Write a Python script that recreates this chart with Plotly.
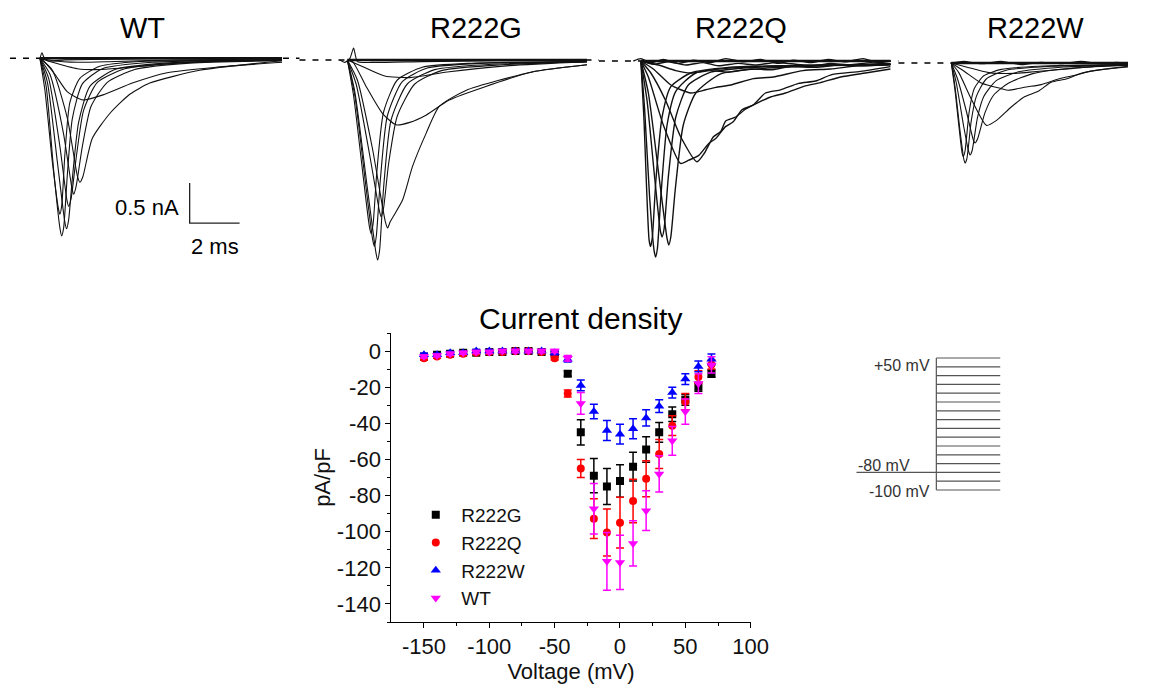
import plotly.graph_objects as go

W, H = 1150, 684
# the page is laid out ~16px narrower than the window, so positions are mapped on this width
RENDER_W = 1134
font_family = "Liberation Sans, Arial, sans-serif"

# ---- current density (pA/pF) vs step voltage ----
voltage = [-150, -140, -130, -120, -110, -100, -90, -80, -70, -60, -50, -40,
           -30, -20, -10, 0, 10, 20, 30, 40, 50, 60, 70]

r222g = [-3, -2, -1.5, -1, -1, -0.5, -0.5, 0, 0, -0.5, -1.5, -12.5,
         -45, -69, -75, -72, -64, -54.5, -45, -35, -27, -19.7, -12.5]
r222g_err = [1, 1, 1, 1, 0.8, 0.8, 0.8, 0.8, 0.8, 0.8, 1, 1.5,
             7, 9.5, 10, 9, 8, 7, 5.5, 4, 3, 2.5, 2]

r222q = [-4, -3, -2, -1.5, -1, -0.5, -0.5, 0, 0, -0.5, -4, -23.5,
         -65, -92.8, -100.5, -95, -83, -70.7, -57, -41.3, -28, -14.4, -7.4]
r222q_err = [1, 1, 1, 0.8, 0.8, 0.8, 0.8, 0.8, 0.8, 0.8, 1, 2,
             5, 11, 13, 14, 12, 10, 8, 5.5, 4.5, 3.5, 2.5]

r222w = [-2, -2, -1, -1, 0, 0, 0, 0, 0, 0, -1, -4.5,
         -19, -33.5, -44, -46, -43, -37, -30.5, -23, -15.5, -8.5, -4.6]
r222w_err = [0.8, 0.8, 0.8, 0.8, 0.8, 0.8, 0.8, 0.8, 0.8, 0.8, 1, 1.5,
             3, 4, 5.5, 5.5, 5.5, 4.5, 3.5, 3, 3, 3, 3]

wt = [-3, -2.5, -1.5, -1, -0.5, -0.5, 0, 0, 0, 0, 0, -4,
      -29, -87.3, -116.4, -117, -106.5, -88.4, -68, -49.7, -33.5, -18, -7.7]
wt_err = [0.8, 0.8, 0.8, 0.8, 0.8, 0.8, 0.8, 0.8, 0.8, 0.8, 0.8, 1.5,
          6, 14, 16, 15, 12.5, 11, 10, 8, 7, 5.5, 4.5]

# ---- example current traces (time in ms, current in nA) ----
WT_T = [
    [0, 0.25, 0.55, 0.8, 0.87, 0.95, 1.1, 1.3, 1.7, 2.5, 4.5, 9.7],
    [0, 0.3, 0.7, 1.0, 1.07, 1.15, 1.3, 1.55, 2.0, 3.0, 5.0, 9.7],
    [0, 0.2, 0.5, 0.74, 0.8, 0.88, 1.0, 1.2, 1.6, 2.4, 4.0, 9.7],
    [0, 0.35, 0.8, 1.08, 1.15, 1.25, 1.45, 1.75, 2.3, 3.4, 5.5, 9.7],
    [0, 0.4, 0.95, 1.28, 1.35, 1.45, 1.7, 2.05, 2.7, 3.8, 6.0, 9.7],
    [0, 0.5, 1.1, 1.5, 1.6, 1.72, 2.1, 2.8, 3.6, 4.4, 6.4, 9.7],
    [0, 0.1, 0.6, 1.1, 1.73, 2.6, 3.7, 5.1, 7.1, 9.7],
    [0, 0.5, 1.5, 2.5, 4.0, 6.0, 9.7],
    [0, 0.08, 0.15, 0.3, 1.0, 3.0, 6.0, 9.7],
    [0, 0.5, 1.5, 3.0, 5.5, 9.7],
]
WT_I = [
    [0, -0.35, -1.4, -2.12, -2.22, -2.12, -1.45, -0.75, -0.32, -0.13, -0.05, -0.02],
    [0, -0.3, -1.3, -2.05, -2.13, -2.02, -1.5, -0.8, -0.35, -0.14, -0.06, -0.02],
    [0, -0.4, -1.3, -1.88, -1.95, -1.82, -1.2, -0.55, -0.25, -0.1, -0.04, -0.02],
    [0, -0.25, -1.1, -1.77, -1.85, -1.75, -1.25, -0.65, -0.3, -0.13, -0.06, -0.02],
    [0, -0.2, -0.95, -1.62, -1.7, -1.6, -1.1, -0.6, -0.3, -0.14, -0.06, -0.03],
    [0, -0.15, -0.75, -1.47, -1.55, -1.48, -1.0, -0.69, -0.45, -0.31, -0.15, -0.03],
    [0, -0.02, -0.2, -0.42, -0.52, -0.45, -0.31, -0.18, -0.11, -0.05],
    [0, -0.05, -0.13, -0.14, -0.1, -0.05, -0.02],
    [0, 0.07, 0.02, -0.03, -0.02, -0.01, 0, 0],
    [0, -0.03, -0.05, -0.04, -0.02, -0.01],
]

G_T = [
    [0, 0.3, 0.8, 1.14, 1.21, 1.29, 1.45, 1.75, 2.4, 3.5, 6.0, 9.6],
    [0, 0.3, 0.75, 1.01, 1.08, 1.16, 1.32, 1.6, 2.2, 3.2, 5.5, 9.6],
    [0, 0.25, 0.65, 0.88, 0.95, 1.03, 1.18, 1.45, 2.0, 3.0, 5.0, 9.6],
    [0, 0.35, 0.9, 1.28, 1.35, 1.45, 1.65, 2.0, 2.7, 3.8, 6.2, 9.6],
    [0, 0.4, 1.0, 1.52, 1.61, 1.72, 2.21, 2.61, 3.15, 3.68, 4.75, 7.4, 9.6],
    [0, 0.21, 0.75, 1.41, 1.95, 2.5, 3.15, 4.08, 5.55, 7.4, 9.6],
    [0, 0.6, 1.5, 2.5, 4.0, 6.5, 9.6],
    [-0.3, -0.1, 0.1, 0.25, 0.4, 1.0, 3.0, 6.0, 9.6],
]
G_I = [
    [0, -0.4, -1.6, -2.4, -2.5, -2.38, -1.6, -0.75, -0.3, -0.12, -0.05, -0.02],
    [0, -0.45, -1.6, -2.24, -2.33, -2.2, -1.5, -0.7, -0.27, -0.1, -0.04, -0.02],
    [0, -0.45, -1.5, -2.08, -2.17, -2.05, -1.4, -0.65, -0.25, -0.09, -0.04, -0.02],
    [0, -0.3, -1.2, -1.88, -1.96, -1.85, -1.3, -0.7, -0.3, -0.13, -0.06, -0.02],
    [0, -0.25, -1.1, -2.02, -2.1, -2.02, -1.75, -1.33, -0.92, -0.58, -0.38, -0.15, -0.06],
    [0, -0.02, -0.33, -0.67, -0.81, -0.78, -0.69, -0.5, -0.33, -0.15, -0.06],
    [0, -0.08, -0.2, -0.22, -0.15, -0.07, -0.02],
    [0, -0.03, 0.02, 0.15, -0.02, -0.03, -0.02, -0.01, 0],
]

Q_T = [
    [0, 0.15, 0.35, 0.53, 0.59, 0.66, 0.8, 1.05, 1.4, 2.2, 4.0, 10.0],
    [0, 0.12, 0.33, 0.39, 0.46, 0.6, 0.85, 1.2, 2.0, 3.5, 10.0],
    [0, 0.3, 0.75, 1.05, 1.12, 1.2, 1.38, 1.7, 2.2, 3.2, 5.5, 10.0],
    [0, 0.25, 0.55, 0.78, 0.85, 0.93, 1.1, 1.4, 1.9, 2.8, 5.0, 10.0],
    [0, 0.3, 0.9, 1.59, 1.92, 2.32, 2.72, 3.0, 3.39, 3.7, 4.05, 4.5, 4.99, 5.6, 6.32, 7.0, 7.65, 8.8, 10.0],
    [0, 0.4, 1.0, 1.6, 2.25, 2.55, 2.9, 3.2, 3.4, 3.8, 4.2, 4.7, 5.2, 5.8, 6.5, 7.2, 8.0, 9.0, 10.0],
    [0, 0.5, 1.2, 2.0, 2.6, 3.0, 3.6, 4.5, 5.3, 6.5, 7.6, 8.7, 10.0],
    [0, 0.7, 1.4, 2.0, 2.8, 3.5, 4.4, 5.2, 6.0, 7.0, 7.9, 8.8, 10.0],
    [-0.3, 0, 0.4, 0.9, 1.5, 2.1, 2.8, 3.4, 4.1, 4.8, 5.5, 6.1, 6.8, 7.5, 8.2, 8.9, 9.5, 10.0],
    [0, 0.5, 1.1, 1.8, 2.5, 3.1, 3.9, 4.6, 5.4, 6.2, 6.9, 7.6, 8.4, 9.2, 10.0],
]
Q_I = [
    [0, -0.6, -1.7, -2.37, -2.45, -2.35, -1.7, -0.8, -0.38, -0.15, -0.08, -0.04],
    [0, -0.7, -2.24, -2.32, -2.2, -1.5, -0.7, -0.32, -0.15, -0.08, -0.04],
    [0, -0.4, -1.5, -2.22, -2.3, -2.2, -1.6, -0.8, -0.4, -0.16, -0.08, -0.04],
    [0, -0.5, -1.45, -2.12, -2.2, -2.1, -1.45, -0.7, -0.3, -0.14, -0.07, -0.04],
    [0, -0.2, -0.8, -1.28, -1.24, -1.18, -1.03, -0.97, -0.82, -0.76, -0.61, -0.55, -0.4, -0.36, -0.28, -0.25, -0.17, -0.13, -0.07],
    [0, -0.15, -0.5, -0.95, -1.26, -1.15, -0.95, -0.88, -0.75, -0.7, -0.6, -0.52, -0.45, -0.4, -0.32, -0.27, -0.2, -0.15, -0.1],
    [0, -0.1, -0.3, -0.4, -0.36, -0.33, -0.3, -0.22, -0.2, -0.12, -0.1, -0.06, -0.05],
    [0, -0.05, -0.12, -0.15, -0.12, -0.14, -0.1, -0.11, -0.07, -0.08, -0.05, -0.06, -0.04],
    [0, 0.03, -0.02, 0.02, -0.03, 0.01, -0.02, 0.03, -0.01, 0.02, -0.03, 0.01, -0.02, 0.02, -0.01, 0.03, -0.02, 0],
    [0, -0.04, -0.01, -0.05, -0.02, -0.06, -0.03, -0.05, -0.02, -0.04, -0.06, -0.03, -0.05, -0.02, -0.04],
]

W_T = [
    [0, 0.15, 0.35, 0.5, 0.55, 0.62, 0.8, 1.0, 1.4, 2.2, 4.0, 7.08],
    [0, 0.15, 0.43, 0.48, 0.55, 0.72, 0.92, 1.3, 2.0, 3.5, 7.08],
    [0, 0.2, 0.5, 0.69, 0.75, 0.83, 1.05, 1.3, 1.8, 2.7, 4.5, 7.08],
    [0, 0.25, 0.6, 0.88, 0.95, 1.05, 1.35, 1.7, 2.3, 3.3, 5.0, 7.08],
    [0, 0.3, 0.8, 1.41, 1.8, 2.4, 2.95, 3.5, 4.0, 4.6, 5.2, 6.1, 7.08],
    [0, 0.5, 1.2, 2.0, 2.28, 3.0, 3.6, 4.3, 5.0, 5.6, 6.3, 7.08],
    [0, 0.6, 1.5, 2.5, 3.3, 4.0, 4.8, 5.5, 6.2, 7.08],
    [0, 0.5, 1.2, 2.0, 2.8, 3.6, 4.4, 5.2, 6.0, 6.6, 7.08],
]
W_I = [
    [0, -0.3, -0.85, -1.2, -1.25, -1.2, -0.72, -0.42, -0.2, -0.09, -0.04, -0.02],
    [0, -0.35, -1.12, -1.17, -1.1, -0.6, -0.32, -0.16, -0.08, -0.04, -0.02],
    [0, -0.25, -0.8, -1.1, -1.15, -1.1, -0.68, -0.42, -0.22, -0.11, -0.05, -0.02],
    [0, -0.2, -0.6, -0.96, -1.0, -0.95, -0.62, -0.4, -0.25, -0.13, -0.06, -0.03],
    [0, -0.12, -0.45, -0.78, -0.72, -0.55, -0.42, -0.35, -0.24, -0.2, -0.13, -0.08, -0.05],
    [0, -0.1, -0.25, -0.32, -0.34, -0.3, -0.27, -0.2, -0.15, -0.1, -0.07, -0.04],
    [0, -0.05, -0.12, -0.13, -0.11, -0.09, -0.07, -0.05, -0.03, -0.02],
    [0, 0.02, -0.01, 0.02, -0.02, 0.01, -0.01, 0.02, -0.01, 0.01, 0],
]

# ---- voltage protocol ----
step_levels = [-100, -90, -80, -70, -60, -50, -40, -30, -20, -10, 0, 10, 20, 30, 40, 50]
holding_mv = -80
hold_ms = 50
step_ms = 40

# scale bar
bar_na = 0.5
bar_ms = 2


def px_x(p):
    return min(p / RENDER_W, 1.0)


def px_y(p):
    return 1 - p / H


fig = go.Figure()

# IV curves
series = [
    ("R222G", r222g, r222g_err, "#000000", "square", 8),
    ("R222Q", r222q, r222q_err, "#ff0000", "circle", 8),
    ("R222W", r222w, r222w_err, "#0000ff", "triangle-up", 9),
    ("WT", wt, wt_err, "#ff00ff", "triangle-down", 9),
]
for name, vals, errs, col, sym, sz in series:
    fig.add_trace(go.Scatter(
        x=voltage, y=vals, name=name, mode="markers",
        marker=dict(color=col, symbol=sym, size=sz, line=dict(width=0)),
        error_y=dict(type="data", array=errs, color=col, thickness=1.5, width=4),
        xaxis="x", yaxis="y",
    ))

# trace panels: (title, axis id, x px span, onset px, baseline px, times, currents, dash start, title x)
px_per_ms = 25
px_per_na = 80
panels = [
    ("WT", 2, (0, 300), 40, 58.3, WT_T, WT_I, 10, 143),
    ("R222G", 3, (300, 600), 348, 60, G_T, G_I, 300, 477),
    ("R222Q", 4, (600, 900), 642, 61, Q_T, Q_I, 600, 742),
    ("R222W", 5, (900, RENDER_W), 953, 63, W_T, W_I, 900, 1037),
]
top_px, bot_px = 30, 280

layout_axes = {}
shapes = []
annotations = []
for title, n, (x0, x1), onset, base, tt, ii, dash0, tx in panels:
    for t, i in zip(tt, ii):
        fig.add_trace(go.Scatter(
            x=t, y=i, mode="lines", showlegend=False, hoverinfo="skip",
            line=dict(color="#111111", width=1.4 if n == 4 else 1.1, shape="spline", smoothing=0.6),
            xaxis=f"x{n}", yaxis=f"y{n}",
        ))
    # thick baseline band of the many small traces
    fig.add_trace(go.Scatter(
        x=[0, tt[0][-1]], y=[0, 0], mode="lines", showlegend=False, hoverinfo="skip",
        line=dict(color="#111111", width=2.5), xaxis=f"x{n}", yaxis=f"y{n}",
    ))
    layout_axes[f"xaxis{n}"] = dict(
        domain=[px_x(x0), px_x(x1)], anchor=f"y{n}", visible=False,
        range=[(x0 - onset) / px_per_ms, (x1 - onset) / px_per_ms], fixedrange=True,
    )
    layout_axes[f"yaxis{n}"] = dict(
        domain=[px_y(bot_px), px_y(top_px)], anchor=f"x{n}", visible=False,
        range=[-(bot_px - base) / px_per_na, -(top_px - base) / px_per_na], fixedrange=True,
    )
    shapes.append(dict(
        type="line", xref=f"x{n} domain", yref=f"y{n}",
        x0=(dash0 - x0) / (x1 - x0), x1=1, y0=0, y1=0,
        line=dict(color="black", width=1.6, dash="6px,7px"), layer="below",
    ))
    annotations.append(dict(
        x=px_x(tx), y=px_y(28), xref="paper", yref="paper", text=title,
        xanchor="center", yanchor="middle",
        showarrow=False, font=dict(size=29, color="black", family=font_family),
    ))

# scale bar in the WT panel
bar_t0, bar_i0 = 6.0, -2.06
fig.add_trace(go.Scatter(
    x=[bar_t0, bar_t0, bar_t0 + bar_ms], y=[bar_i0 + bar_na, bar_i0, bar_i0],
    mode="lines", showlegend=False, hoverinfo="skip",
    line=dict(color="#222222", width=1.3), xaxis="x2", yaxis="y2",
))
annotations.append(dict(x=bar_t0 - 0.35, y=bar_i0 + 0.2, xref="x2", yref="y2",
                        text=f"{bar_na} nA", showarrow=False, xanchor="right", yanchor="middle",
                        font=dict(size=22, color="black", family=font_family)))
annotations.append(dict(x=bar_t0 + bar_ms / 2, y=bar_i0 - 0.29, xref="x2", yref="y2",
                        text=f"{bar_ms} ms", showarrow=False, xanchor="center", yanchor="middle",
                        font=dict(size=22, color="black", family=font_family)))

# voltage protocol
prot_x, prot_y = [], []
prot_x += [-hold_ms, 0, None, 0, 0, None]
prot_y += [holding_mv, holding_mv, None, min(step_levels), max(step_levels), None]
for lv in step_levels:
    prot_x += [0, step_ms, None]
    prot_y += [lv, lv, None]
fig.add_trace(go.Scatter(
    x=prot_x, y=prot_y, mode="lines", showlegend=False, hoverinfo="skip",
    line=dict(color="#555555", width=1.2), xaxis="x6", yaxis="y6",
))
prot_px_per_ms = 1.6
prot_px_per_mv = 0.88
layout_axes["xaxis6"] = dict(
    domain=[px_x(850), px_x(1010)], anchor="y6", visible=False, fixedrange=True,
    range=[(850 - 938) / prot_px_per_ms, (1010 - 938) / prot_px_per_ms],
)
layout_axes["yaxis6"] = dict(
    domain=[px_y(500), px_y(350)], anchor="x6", visible=False, fixedrange=True,
    range=[-100 - (500 - 490) / prot_px_per_mv, 50 + (358 - 350) / prot_px_per_mv],
)
prot_font = dict(size=16, color="#333333", family=font_family)
annotations.append(dict(x=-3, y=max(step_levels) - 9, xref="x6", yref="y6", text="+50 mV",
                        showarrow=False, xanchor="right", yanchor="middle", font=prot_font))
annotations.append(dict(x=-hold_ms, y=holding_mv, xref="x6", yref="y6", text="-80 mV",
                        showarrow=False, xanchor="left", yanchor="bottom", yshift=-4, font=prot_font))
annotations.append(dict(x=-3, y=min(step_levels) - 2, xref="x6", yref="y6", text="-100 mV",
                        showarrow=False, xanchor="right", yanchor="middle", font=prot_font))

# main plot title
annotations.append(dict(x=px_x(582), y=px_y(318), xref="paper", yref="paper",
                        text="Current density", showarrow=False, xanchor="center", yanchor="middle",
                        font=dict(size=30, color="black", family=font_family)))

x_ticks = [-150, -100, -50, 0, 50, 100]
y_ticks = [-140, -120, -100, -80, -60, -40, -20, 0]
tick_font = dict(size=22, color="#111111", family=font_family)

fig.update_layout(
    width=W, height=H,
    margin=dict(l=0, r=0, t=0, b=0),
    paper_bgcolor="white", plot_bgcolor="white",
    font=dict(family=font_family, color="black"),
    xaxis=dict(
        domain=[px_x(392), px_x(752)], anchor="y", range=[-175, 100],
        showline=True, linecolor="black", linewidth=1, showgrid=False, zeroline=False,
        ticks="outside", ticklen=5, tickcolor="black",
        tickvals=x_ticks, ticktext=[str(v) for v in x_ticks], tickfont=tick_font,
        minor=dict(ticks="outside", ticklen=3, tickcolor="black", tickvals=[-125, -75, -25, 25, 75]),
        title=dict(text="Voltage (mV)", font=dict(size=22, color="#111111"), standoff=3),
        fixedrange=True,
    ),
    yaxis=dict(
        domain=[px_y(622), px_y(333)], anchor="x", range=[-150, 10],
        showline=True, linecolor="black", linewidth=1, showgrid=False, zeroline=False,
        ticks="outside", ticklen=5, tickcolor="black",
        tickvals=y_ticks, ticktext=[str(v) for v in y_ticks], tickfont=tick_font,
        minor=dict(ticks="outside", ticklen=3, tickcolor="black",
                   tickvals=[-150, -130, -110, -90, -70, -50, -30, -10, 10]),
        title=dict(text="pA/pF", font=dict(size=22, color="#111111"), standoff=0),
        fixedrange=True,
    ),
    legend=dict(
        x=px_x(411), y=px_y(496), xanchor="left", yanchor="top",
        font=dict(size=19, color="#111111"), bgcolor="rgba(0,0,0,0)",
        itemwidth=41, tracegroupgap=0,
    ),
    shapes=shapes,
    annotations=annotations,
    **layout_axes,
)

fig.write_html(
    "out.html",
    config={"responsive": False, "displayModeBar": False},
    post_script="document.documentElement.style.margin='0';"
                "document.body.style.margin='0';"
                "document.body.style.overflow='hidden';",
)
